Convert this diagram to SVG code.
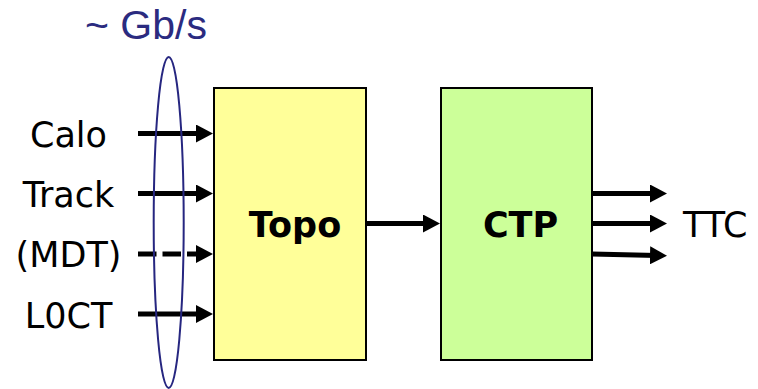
<svg xmlns="http://www.w3.org/2000/svg" width="758" height="389" viewBox="0 0 758 389">
<style>
.lbl{font-family:"DejaVu Sans",Verdana,sans-serif;font-size:35px;fill:#000}
.bold{font-weight:bold}
.box{stroke:#000;stroke-width:2}
.conn{stroke:#000;stroke-width:5;fill:none}
</style>
<defs>
<marker id="ah" markerUnits="userSpaceOnUse" markerWidth="17" markerHeight="18" refX="7" refY="9" orient="auto" viewBox="0 0 17 18">
<path d="M0,0 L17,9 L0,18 z" fill="#000"/>
</marker>
</defs>
<rect width="758" height="389" fill="#fff"/>
<g id="topo">
<rect class="box" x="214" y="88" width="152" height="272" fill="#ffff99"/>
<text class="lbl bold" x="295" y="237" text-anchor="middle">Topo</text>
</g>
<g id="ctp">
<rect class="box" x="441" y="88" width="151" height="272" fill="#ccff99"/>
<text class="lbl bold" x="520.5" y="237" text-anchor="middle">CTP</text>
</g>
<g id="inputs">
<text class="lbl" x="68.5" y="147" text-anchor="middle">Calo</text>
<text class="lbl" x="68.5" y="207" text-anchor="middle">Track</text>
<text class="lbl" x="68.5" y="267" text-anchor="middle">(MDT)</text>
<text class="lbl" x="68.5" y="328" text-anchor="middle">L0CT</text>
</g>
<g id="ttc">
<text class="lbl" x="683" y="237">TTC</text>
</g>
<g id="connectors">
<line class="conn" x1="138" y1="133.5" x2="203" y2="133.5" marker-end="url(#ah)"/>
<line class="conn" x1="138" y1="193.5" x2="203" y2="193.5" marker-end="url(#ah)"/>
<line class="conn" x1="138" y1="254" x2="203" y2="254" stroke-dasharray="18.5,6" marker-end="url(#ah)"/>
<line class="conn" x1="138" y1="314" x2="203" y2="314" marker-end="url(#ah)"/>
<line class="conn" x1="366" y1="223.5" x2="430" y2="223.5" marker-end="url(#ah)"/>
<line class="conn" x1="592" y1="193.5" x2="657" y2="193.5" marker-end="url(#ah)"/>
<line class="conn" x1="592" y1="223.5" x2="657" y2="223.5" marker-end="url(#ah)"/>
<line class="conn" x1="592" y1="254" x2="657" y2="255.5" marker-end="url(#ah)"/>
</g>
<g id="bandwidth">
<ellipse cx="168.7" cy="222.5" rx="15" ry="165.5" fill="none" stroke="#262680" stroke-width="2"/>
<text x="146" y="39" text-anchor="middle" font-family="'Liberation Sans',Arial,sans-serif" font-size="41" fill="#2b2b80">~ Gb/s</text>
</g>
</svg>
